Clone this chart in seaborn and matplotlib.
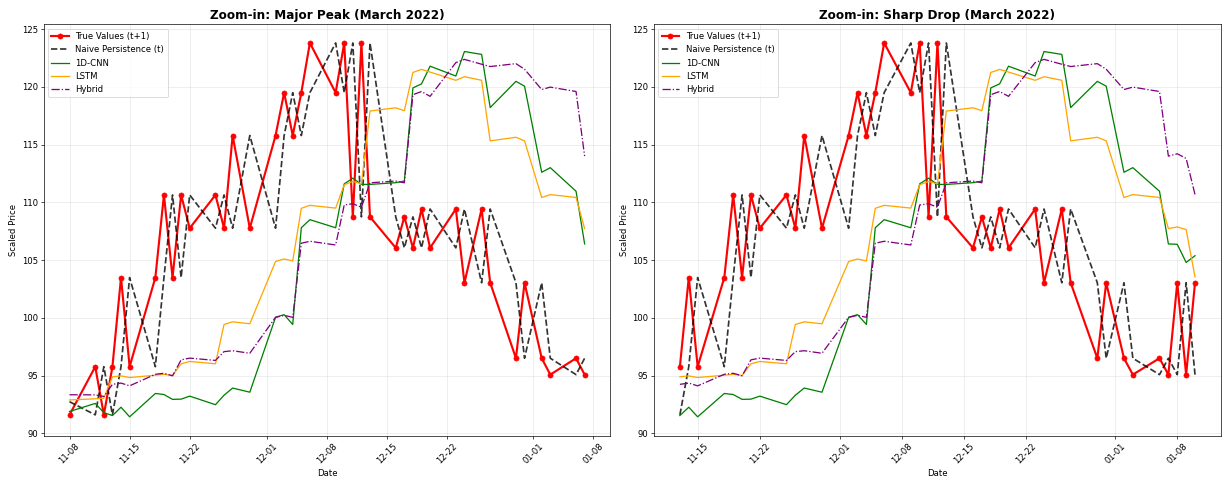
import matplotlib
matplotlib.use('Agg')
import matplotlib.pyplot as plt
import matplotlib.dates as mdates
import seaborn as sns
import pandas as pd

# Data (scaled prices)
dates = pd.to_datetime([
    "2021-11-08", "2021-11-11", "2021-11-12", "2021-11-13", "2021-11-14", "2021-11-15",
    "2021-11-18", "2021-11-19", "2021-11-20", "2021-11-21", "2021-11-22", "2021-11-25",
    "2021-11-26", "2021-11-27", "2021-11-29", "2021-12-02", "2021-12-03", "2021-12-04",
    "2021-12-05", "2021-12-06", "2021-12-09", "2021-12-10", "2021-12-11", "2021-12-12",
    "2021-12-13", "2021-12-16", "2021-12-17", "2021-12-18", "2021-12-19", "2021-12-20",
    "2021-12-23", "2021-12-24", "2021-12-26", "2021-12-27", "2021-12-30", "2021-12-31",
    "2022-01-02", "2022-01-03", "2022-01-06", "2022-01-07", "2022-01-08", "2022-01-09",
    "2022-01-10",
])

true_vals = [91.61, 95.78, 91.61, 95.78, 103.49, 95.78, 103.49, 110.64, 103.49, 110.64,
             107.76, 110.64, 107.76, 115.78, 107.76, 115.78, 119.49, 115.78, 119.49, 123.79,
             119.49, 123.79, 108.74, 123.79, 108.74, 106.06, 108.74, 106.06, 109.42, 106.06,
             109.42, 103.04, 109.42, 103.04, 96.51, 103.04, 96.51, 95.09, 96.51, 95.09,
             103.04, 95.09, 103.04]

naive_vals = [92.75, 91.61, 95.78, 91.61, 95.78, 103.49, 95.78, 103.49, 110.64, 103.49,
              110.64, 107.76, 110.64, 107.76, 115.78, 107.76, 115.78, 119.49, 115.78, 119.49,
              123.79, 119.49, 123.79, 108.74, 123.79, 108.74, 106.06, 108.74, 106.06, 109.42,
              106.06, 109.42, 103.04, 109.42, 103.04, 96.51, 103.04, 96.51, 95.09, 96.51,
              95.09, 103.04, 95.09]

cnn_vals = [91.9, 92.6, 91.8, 91.55, 92.27, 91.44, 93.46, 93.37, 92.95, 92.97,
            93.23, 92.49, 93.31, 93.93, 93.57, 100.05, 100.28, 99.43, 107.8, 108.5,
            107.8, 111.6, 112.09, 111.55, 111.55, 111.7, 111.84, 119.9, 120.25, 121.78,
            120.93, 123.05, 122.8, 118.2, 120.47, 120.05, 112.6, 113.0, 110.96, 106.4,
            106.37, 104.8, 105.38]

lstm_vals = [92.9, 93.0, 93.05, 94.9, 94.98, 94.84, 95.04, 95.12, 95.01, 96.03,
             96.23, 96.03, 99.43, 99.66, 99.49, 104.88, 105.1, 104.93, 109.48, 109.74,
             109.5, 111.52, 111.81, 111.6, 117.9, 118.18, 117.93, 121.24, 121.5, 121.27,
             120.56, 120.87, 120.56, 115.32, 115.63, 115.32, 110.42, 110.67, 110.42, 107.73,
             107.87, 107.64, 103.54]

hybrid_vals = [93.35, 93.34, 93.2, 94.25, 94.36, 94.12, 95.12, 95.21, 94.99, 96.37,
               96.52, 96.32, 97.08, 97.16, 96.94, 100.05, 100.22, 100.05, 106.46, 106.63,
               106.31, 109.77, 109.88, 109.57, 111.69, 111.84, 111.69, 119.31, 119.59, 119.17,
               122.09, 122.37, 121.95, 121.75, 122.0, 121.52, 119.76, 119.97, 119.59, 114.0,
               114.2, 113.8, 110.67]

df = pd.DataFrame({
    "date": dates,
    "true": true_vals,
    "naive": naive_vals,
    "cnn": cnn_vals,
    "lstm": lstm_vals,
    "hybrid": hybrid_vals,
})

# (title, first index, last index) of each zoom window
windows = [
    ("Zoom-in: Major Peak (March 2022)", 0, 40),
    ("Zoom-in: Sharp Drop (March 2022)", 3, 43),
]

fig, axes = plt.subplots(1, 2, figsize=(20, 7.92), dpi=61.5)

for ax, (title, start, end) in zip(axes, windows):
    sub = df.iloc[start:end]
    sns.lineplot(data=sub, x="date", y="true", ax=ax, color="red", linewidth=2.5,
                 marker="o", markersize=6, markeredgecolor="red", label="True Values (t+1)")
    sns.lineplot(data=sub, x="date", y="naive", ax=ax, color="black", linewidth=2,
                 linestyle="--", alpha=0.8, label="Naive Persistence (t)")
    sns.lineplot(data=sub, x="date", y="cnn", ax=ax, color="green", linewidth=1.5,
                 label="1D-CNN")
    sns.lineplot(data=sub, x="date", y="lstm", ax=ax, color="orange", linewidth=1.5,
                 label="LSTM")
    sns.lineplot(data=sub, x="date", y="hybrid", ax=ax, color="purple", linewidth=1.5,
                 linestyle="-.", label="Hybrid")
    ax.set_title(title, fontsize=14, fontweight="bold")
    ax.set_xlabel("Date")
    ax.set_ylabel("Scaled Price")
    ax.xaxis.set_major_formatter(mdates.DateFormatter("%m-%d"))
    ax.tick_params(axis="x", rotation=45)
    ax.grid(True, alpha=0.3)
    ax.legend(loc="upper left")

plt.tight_layout()
plt.savefig("out.png", dpi=61.5)
plt.close()
